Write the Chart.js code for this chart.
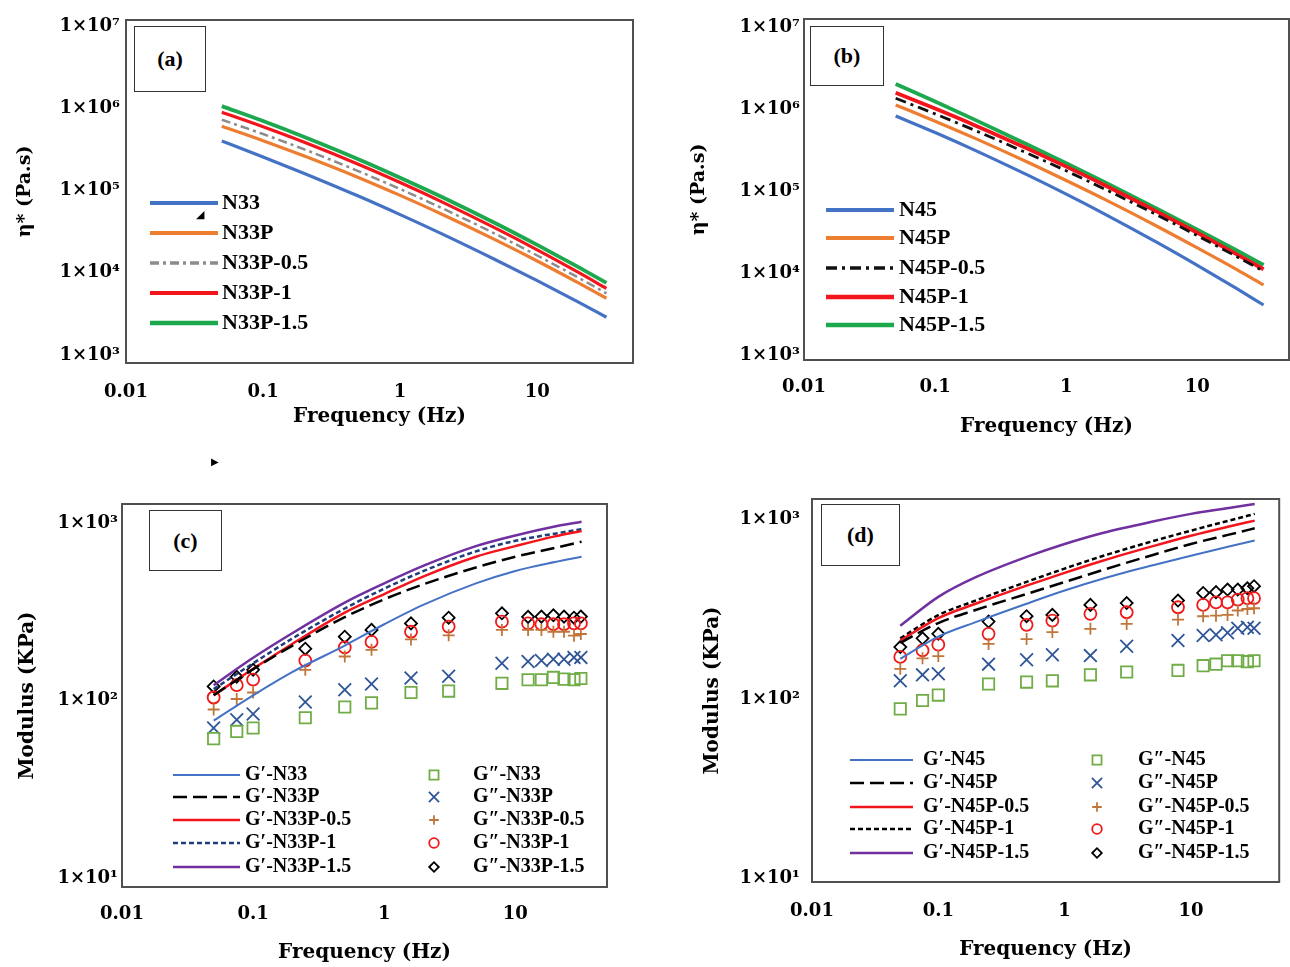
<!DOCTYPE html>
<html>
<head>
<meta charset="utf-8">
<script src="https://cdn.jsdelivr.net/npm/chart.js@4"></script>
<style>
  body { margin: 0; background: #fff; }
  #page { position: relative; width: 1290px; height: 967px; overflow: hidden; }
  .panel { position: absolute; }
  .tag {
    position: absolute; border: 1.5px solid #333; box-sizing: border-box;
    font: bold 22px "Liberation Serif", serif; display: flex;
    align-items: center; justify-content: center; color: #000; background: #fff;
  }
  .stray { position: absolute; font-size: 11px; color: #000; line-height: 1; }
</style>
</head>
<body>
<div id="page">
  <canvas class="panel" id="chartA" width="645" height="445" style="left:0;top:0"></canvas>
  <canvas class="panel" id="chartB" width="640" height="445" style="left:650px;top:0"></canvas>
  <canvas class="panel" id="chartC" width="645" height="517" style="left:0;top:450px"></canvas>
  <canvas class="panel" id="chartD" width="640" height="517" style="left:650px;top:450px"></canvas>
  <div class="tag" style="left:134px;top:26px;width:72px;height:66px">(a)</div>
  <div class="tag" style="left:810px;top:26px;width:74px;height:60px">(b)</div>
  <div class="tag" style="left:149px;top:510px;width:73px;height:61px">(c)</div>
  <div class="tag" style="left:821px;top:504px;width:79px;height:62px">(d)</div>
  <span class="stray" style="left:196px;top:209px">◢</span>
  <span class="stray" style="left:211px;top:457px;font-size:10px">▶</span>
</div>
<script>
// tick labels
const freqTicks = [0.01, 0.1, 1, 10];
const etaTicks = [1e3, 1e4, 1e5, 1e6, 1e7];
const modTicks = [10, 100, 1000];

// frequencies (Hz)
const lineFreq = [0.05, 0.1, 0.2, 0.5, 1, 2, 5, 10, 20, 32];
const pointFreq = [0.05, 0.075, 0.1, 0.25, 0.5, 0.8, 1.6, 3.1, 7.9, 12.5, 15.8, 19.5, 23.5, 28, 31.6];

// (a) complex viscosity, Pa.s
const etaN33 = [398000, 256000, 161000, 84900, 50900, 29900, 14300, 8010, 4390, 2880];
const etaN33P = [603000, 403000, 262000, 143000, 87100, 51700, 24900, 13900, 7530, 4900];
const etaN33P05 = [724000, 485000, 316000, 171000, 104000, 61500, 29400, 16200, 8710, 5620];
const etaN33P1 = [891000, 594000, 385000, 207000, 125000, 73300, 34600, 19000, 10100, 6460];
const etaN33P15 = [1060000, 697000, 446000, 238000, 143000, 83900, 39700, 21800, 11700, 7550];

// (b) complex viscosity, Pa.s
const etaN45 = [822000, 516000, 315000, 158000, 91500, 51600, 23300, 12400, 6440, 4070];
const etaN45P = [1120000, 710000, 441000, 227000, 134000, 77800, 36600, 20200, 11000, 7140];
const etaN45P05 = [1350000, 870000, 550000, 291000, 176000, 104000, 50400, 28500, 15800, 10500];
const etaN45P1 = [1580000, 1010000, 634000, 331000, 198000, 116000, 55300, 30900, 16900, 11100];
const etaN45P15 = [2020000, 1230000, 741000, 372000, 218000, 126000, 60100, 33800, 18800, 12500];

// (c) storage modulus G', KPa
const gpN33 = [77, 107, 145, 204, 269, 347, 457, 537, 603, 646];
const gpN33P = [107, 150, 204, 295, 372, 452, 562, 646, 724, 785];
const gpN33P05 = [107, 151, 209, 313, 398, 501, 646, 741, 841, 902];
const gpN33P1 = [116, 162, 224, 330, 427, 537, 692, 794, 871, 923];
const gpN33P15 = [122, 174, 240, 356, 457, 575, 741, 851, 955, 1016];
// (c) loss modulus G'', KPa
const gppN33 = [61, 67, 70, 80, 92, 97, 111, 113, 125, 131, 131, 135, 132, 131, 133];
const gppN33P = [70, 78, 84, 98, 115, 124, 134, 137, 162, 166, 168, 171, 171, 175, 175];
const gppN33P05 = [89, 102, 111, 149, 177, 193, 221, 233, 250, 250, 250, 244, 244, 232, 237];
const gppN33P1 = [104, 122, 131, 168, 199, 214, 244, 261, 278, 272, 269, 269, 269, 272, 272];
const gppN33P15 = [120, 136, 149, 196, 229, 250, 272, 293, 310, 296, 297, 302, 297, 293, 297];

// (d) storage modulus G', KPa
const gpN45 = [167, 222, 268, 338, 400, 465, 553, 625, 703, 759];
const gpN45P = [205, 264, 313, 383, 446, 520, 631, 726, 818, 887];
const gpN45P05 = [211, 281, 339, 426, 502, 586, 706, 807, 908, 979];
const gpN45P1 = [217, 292, 353, 447, 530, 622, 753, 861, 979, 1067];
const gpN45P15 = [255, 369, 476, 615, 726, 836, 968, 1067, 1151, 1211];
// (d) loss modulus G'', KPa
const gppN45 = [88, 98, 105, 121, 124, 126, 136, 141, 144, 153, 156, 163, 163, 161, 163];
const gppN45P = [126, 136, 138, 156, 165, 176, 174, 196, 211, 225, 227, 233, 247, 250, 247];
const gppN45P05 = [147, 168, 173, 202, 215, 235, 245, 261, 276, 288, 290, 293, 310, 316, 319];
const gppN45P1 = [171, 186, 200, 230, 258, 272, 297, 303, 323, 333, 344, 344, 356, 363, 363];
const gppN45P15 = [194, 217, 230, 269, 288, 293, 333, 341, 352, 388, 392, 405, 405, 412, 423];

const SUP = {1: '¹', 2: '²', 3: '³', 4: '⁴', 5: '⁵', 6: '⁶', 7: '⁷'};
const TICK_FONT = {family: '"DejaVu Serif", serif', size: 18, weight: 'bold'};
const TITLE_FONT = {family: '"DejaVu Serif", serif', size: 20, weight: 'bold'};

function pts(xs, ys) {
  return xs.map((x, i) => ({x: x, y: ys[i]}));
}

function lineDs(label, ys, color, width, dash) {
  return {
    label: label, data: pts(lineFreq, ys), showLine: true,
    borderColor: color, borderWidth: width, borderDash: dash || [],
    pointRadius: 0, fill: false, cubicInterpolationMode: 'monotone'
  };
}

function markDs(label, ys, color, style, radius) {
  return {
    label: label, data: pts(pointFreq, ys), showLine: false,
    pointStyle: style, pointRadius: radius, pointBorderWidth: 1.8,
    pointBorderColor: color, pointBackgroundColor: 'rgba(0,0,0,0)',
    borderColor: color, backgroundColor: 'rgba(0,0,0,0)'
  };
}

// frame round the plot area + legend drawn from the dataset styles
const panelDeco = {
  id: 'panelDeco',
  afterDraw(chart, args, opts) {
    const ctx = chart.ctx;
    const a = chart.chartArea;
    ctx.save();
    ctx.strokeStyle = '#505050';
    ctx.lineWidth = 2;
    ctx.strokeRect(a.left, a.top, a.right - a.left, a.bottom - a.top);

    ctx.font = opts.font;
    ctx.textBaseline = 'middle';
    ctx.textAlign = 'left';
    opts.items.forEach(it => {
      const ds = chart.data.datasets[it.ds];
      ctx.save();
      if (ds.showLine) {
        ctx.strokeStyle = ds.borderColor;
        ctx.lineWidth = ds.borderWidth + (opts.extra || 0);
        ctx.setLineDash(ds.borderDash || []);
        ctx.beginPath();
        ctx.moveTo(it.x0, it.y);
        ctx.lineTo(it.x1, it.y);
        ctx.stroke();
      } else {
        ctx.strokeStyle = ds.pointBorderColor;
        ctx.fillStyle = 'rgba(0,0,0,0)';
        ctx.lineWidth = ds.pointBorderWidth;
        Chart.helpers.drawPoint(ctx, {
          pointStyle: ds.pointStyle, radius: ds.pointRadius * 0.8,
          borderWidth: ds.pointBorderWidth, rotation: 0
        }, it.mx, it.y);
      }
      ctx.restore();
      ctx.fillStyle = '#000';
      ctx.fillText(ds.label, it.tx, it.y);
    });
    ctx.restore();
  }
};

function makePanel(id, cfg) {
  return new Chart(document.getElementById(id), {
    type: 'scatter',
    data: {datasets: cfg.datasets},
    options: {
      responsive: false,
      animation: false,
      layout: {padding: cfg.pad},
      scales: {
        x: {
          type: 'logarithmic', min: 0.01, max: 50,
          afterBuildTicks: s => { s.ticks = freqTicks.map(v => ({value: v})); },
          afterFit: s => { s.height = cfg.xHeight; },
          grid: {display: false, drawTicks: false},
          border: {display: false},
          ticks: {
            font: TICK_FONT, color: '#000', padding: cfg.xTickPad,
            autoSkip: false, maxRotation: 0,
            callback: v => String(v)
          },
          title: {
            display: true, text: 'Frequency (Hz)', color: '#000',
            font: TITLE_FONT, padding: {top: 0, bottom: cfg.xTitlePad}
          }
        },
        y: {
          type: 'logarithmic', min: cfg.yMin, max: cfg.yMax,
          afterBuildTicks: s => { s.ticks = cfg.yTicks.map(v => ({value: v})); },
          afterFit: s => { s.width = cfg.yWidth; },
          grid: {display: false, drawTicks: false},
          border: {display: false},
          ticks: {
            font: TICK_FONT, color: '#000', padding: cfg.yTickPad, autoSkip: false,
            callback: v => '1×10' + SUP[Math.round(Math.log10(v))]
          },
          title: {
            display: true, text: cfg.yTitle, color: '#000',
            font: {family: '"DejaVu Serif", serif', size: cfg.yTitleSize, weight: 'bold'},
            padding: {top: cfg.yTitlePad, bottom: 0}
          }
        }
      },
      plugins: {
        legend: {display: false},
        tooltip: {enabled: false},
        panelDeco: {font: cfg.legendFont, items: cfg.legendItems, extra: cfg.legendExtra}
      }
    },
    plugins: [panelDeco]
  });
}

function lineLegend(rows, x0, x1, tx, first) {
  return rows.map((y, i) => ({ds: first + i, y: y, x0: x0, x1: x1, tx: tx}));
}
function markLegend(rows, mx, tx, first) {
  return rows.map((y, i) => ({ds: first + i, y: y, mx: mx, tx: tx}));
}

const BLUE = '#4472C4', ORANGE = '#ED7D31', RED = '#F2161C', GREEN = '#1EA84E';
const PURPLE = '#7030A0', NAVY = '#1F3D7A', GREY = '#8C8C8C';

// (a)
makePanel('chartA', {
  datasets: [
    lineDs('N33', etaN33, BLUE, 3.2),
    lineDs('N33P', etaN33P, ORANGE, 3.2),
    lineDs('N33P-0.5', etaN33P05, GREY, 2.5, [9, 4, 3, 4]),
    lineDs('N33P-1', etaN33P1, RED, 3.2),
    lineDs('N33P-1.5', etaN33P15, GREEN, 3.8)
  ],
  pad: {left: 0, right: 12, top: 20, bottom: 0},
  xHeight: 82, xTickPad: 19, xTitlePad: 16,
  yWidth: 126, yTickPad: 6, yTitlePad: 14, yTitleSize: 19,
  yMin: 800, yMax: 1.18e7, yTicks: etaTicks, yTitle: 'η* (Pa.s)',
  legendFont: 'bold 22px "Liberation Serif", serif', legendExtra: 0.8,
  legendItems: lineLegend([203, 233, 263, 293, 323], 150, 218, 222, 0)
});

// (b)
makePanel('chartB', {
  datasets: [
    lineDs('N45', etaN45, BLUE, 3.2),
    lineDs('N45P', etaN45P, ORANGE, 3.2),
    lineDs('N45P-0.5', etaN45P05, '#111', 2.8, [11, 5, 3, 5]),
    lineDs('N45P-1', etaN45P1, RED, 3.8),
    lineDs('N45P-1.5', etaN45P15, GREEN, 3.8)
  ],
  pad: {left: 0, right: 1, top: 19, bottom: 0},
  xHeight: 85, xTickPad: 17, xTitlePad: 6,
  yWidth: 154, yTickPad: 4, yTitlePad: 38, yTitleSize: 19,
  yMin: 869, yMax: 1.25e7, yTicks: etaTicks, yTitle: 'η* (Pa.s)',
  legendFont: 'bold 22px "Liberation Serif", serif', legendExtra: 0.8,
  legendItems: lineLegend([210, 238, 268, 297, 325], 176, 244, 249, 0)
});

// (c)
makePanel('chartC', {
  datasets: [
    lineDs('G′-N33', gpN33, BLUE, 2),
    lineDs('G′-N33P', gpN33P, '#000', 2.5, [14, 6]),
    lineDs('G′-N33P-0.5', gpN33P05, RED, 2.5),
    lineDs('G′-N33P-1', gpN33P1, NAVY, 2.5, [5, 3]),
    lineDs('G′-N33P-1.5', gpN33P15, PURPLE, 2.5),
    markDs('G″-N33', gppN33, '#70AD47', 'rect', 8),
    markDs('G″-N33P', gppN33P, '#2F5597', 'crossRot', 9),
    markDs('G″-N33P-0.5', gppN33P05, '#C0763A', 'cross', 6),
    markDs('G″-N33P-1', gppN33P1, '#F01818', 'circle', 6),
    markDs('G″-N33P-1.5', gppN33P15, '#000', 'rectRot', 6)
  ],
  pad: {left: 0, right: 38, top: 54, bottom: 0},
  xHeight: 80, xTickPad: 17, xTitlePad: 2,
  yWidth: 122, yTickPad: 4, yTitlePad: 16, yTitleSize: 20,
  yMin: 8.9, yMax: 1280, yTicks: modTicks, yTitle: 'Modulus (KPa)',
  legendFont: 'bold 20px "Liberation Serif", serif', legendExtra: 0,
  legendItems: lineLegend([325, 347, 370, 393, 417], 173, 240, 245, 0)
    .concat(markLegend([325, 347, 370, 393, 417], 434, 473, 5))
});

// (d)
makePanel('chartD', {
  datasets: [
    lineDs('G′-N45', gpN45, BLUE, 2),
    lineDs('G′-N45P', gpN45P, '#000', 2.5, [14, 6]),
    lineDs('G′-N45P-0.5', gpN45P05, RED, 2.5),
    lineDs('G′-N45P-1', gpN45P1, '#000', 2.5, [5, 3]),
    lineDs('G′-N45P-1.5', gpN45P15, PURPLE, 2.5),
    markDs('G″-N45', gppN45, '#70AD47', 'rect', 8),
    markDs('G″-N45P', gppN45P, '#2F5597', 'crossRot', 9),
    markDs('G″-N45P-0.5', gppN45P05, '#C0763A', 'cross', 6),
    markDs('G″-N45P-1', gppN45P1, '#F01818', 'circle', 6),
    markDs('G″-N45P-1.5', gppN45P15, '#000', 'rectRot', 6)
  ],
  pad: {left: 0, right: 1, top: 49, bottom: 0},
  xHeight: 85, xTickPad: 19, xTitlePad: 5,
  yWidth: 162, yTickPad: 12, yTitlePad: 51, yTitleSize: 20,
  yMin: 9.6, yMax: 1291, yTicks: modTicks, yTitle: 'Modulus (KPa)',
  legendFont: 'bold 20px "Liberation Serif", serif', legendExtra: 0,
  legendItems: lineLegend([310, 333, 357, 379, 403], 200, 263, 273, 0)
    .concat(markLegend([310, 333, 357, 379, 403], 447, 488, 5))
});
</script>
</body>
</html>
